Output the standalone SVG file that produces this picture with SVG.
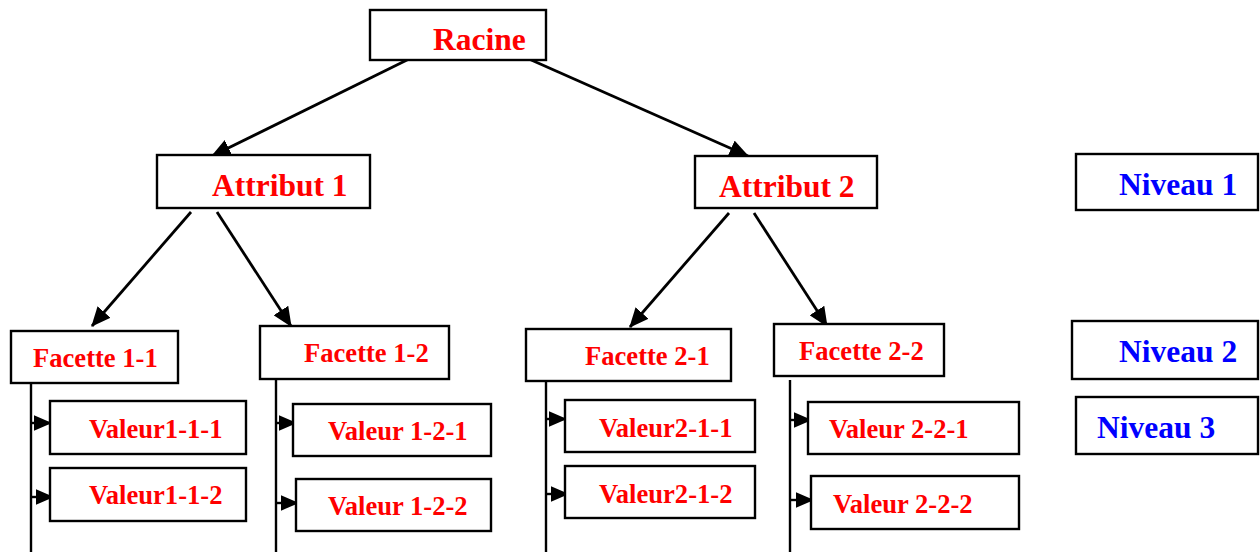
<svg xmlns="http://www.w3.org/2000/svg" width="1260" height="552" viewBox="0 0 1260 552">
  <style>
    .box { fill: #ffffff; stroke: #000000; stroke-width: 2.4; }
    .lbl { font-family: "Liberation Serif", "Times New Roman", serif; font-weight: bold; fill: #ff0000; }
    .big { font-size: 31.5px; }
    .mid { font-size: 26.6px; }
    .lvl { font-family: "Liberation Serif", "Times New Roman", serif; font-weight: bold; fill: #0000ff; font-size: 31.5px; }
    .edge { fill: none; stroke: #000000; stroke-width: 2.8; }
    .spine { fill: none; stroke: #000000; stroke-width: 2.4; }
  </style>
  <defs>
    <marker id="arrow" markerWidth="7" markerHeight="6.2" refX="6.6" refY="3.1" orient="auto" markerUnits="strokeWidth">
      <path d="M0,0 L7,3.1 L0,6.2 Z" fill="#000000"/>
    </marker>
    <marker id="arrowS" markerWidth="7.5" markerHeight="6.4" refX="7.1" refY="3.2" orient="auto" markerUnits="strokeWidth">
      <path d="M0,0 L7.5,3.2 L0,6.4 Z" fill="#000000"/>
    </marker>
  </defs>
  <rect width="1260" height="552" fill="#ffffff"/>

  <!-- connectors -->
  <g id="connectors">
    <line class="edge" x1="409" y1="59" x2="212" y2="156" marker-end="url(#arrow)"/>
    <line class="edge" x1="529" y1="59" x2="748" y2="156" marker-end="url(#arrow)"/>
    <line class="edge" x1="191" y1="212" x2="92" y2="326" marker-end="url(#arrow)"/>
    <line class="edge" x1="217" y1="212" x2="291" y2="326" marker-end="url(#arrow)"/>
    <line class="edge" x1="729" y1="213" x2="630" y2="327" marker-end="url(#arrow)"/>
    <line class="edge" x1="754" y1="213" x2="827" y2="326" marker-end="url(#arrow)"/>

    <!-- facet spines -->
    <line class="spine" x1="31" y1="383" x2="31" y2="552"/>
    <line class="spine" x1="276" y1="380" x2="276" y2="552"/>
    <line class="spine" x1="546" y1="381" x2="546" y2="552"/>
    <line class="spine" x1="790" y1="380" x2="790" y2="552"/>

    <!-- value branches -->
    <line class="spine" x1="31" y1="423" x2="51" y2="423" marker-end="url(#arrowS)"/>
    <line class="spine" x1="31" y1="497" x2="53" y2="497" marker-end="url(#arrowS)"/>
    <line class="spine" x1="276" y1="423" x2="296" y2="423" marker-end="url(#arrowS)"/>
    <line class="spine" x1="276" y1="503" x2="298" y2="503" marker-end="url(#arrowS)"/>
    <line class="spine" x1="546" y1="419" x2="566" y2="419" marker-end="url(#arrowS)"/>
    <line class="spine" x1="546" y1="494" x2="568" y2="494" marker-end="url(#arrowS)"/>
    <line class="spine" x1="790" y1="420" x2="811" y2="420" marker-end="url(#arrowS)"/>
    <line class="spine" x1="790" y1="500" x2="813" y2="500" marker-end="url(#arrowS)"/>
  </g>

  <!-- root -->
  <g id="racine">
    <rect class="box" x="370" y="10" width="176" height="50"/>
    <text class="lbl big" x="433" y="50">Racine</text>
  </g>

  <!-- attributes -->
  <g id="attribut-1">
    <rect class="box" x="157" y="155" width="213" height="53"/>
    <text class="lbl big" x="212" y="196">Attribut 1</text>
  </g>
  <g id="attribut-2">
    <rect class="box" x="695" y="156" width="182" height="52"/>
    <text class="lbl big" x="719" y="197">Attribut 2</text>
  </g>

  <!-- facets -->
  <g id="facette-1-1">
    <rect class="box" x="11" y="331" width="167" height="52"/>
    <text class="lbl mid" x="33" y="367">Facette 1-1</text>
  </g>
  <g id="facette-1-2">
    <rect class="box" x="260" y="326" width="189" height="53"/>
    <text class="lbl mid" x="304" y="362">Facette 1-2</text>
  </g>
  <g id="facette-2-1">
    <rect class="box" x="526" y="329" width="205" height="52"/>
    <text class="lbl mid" x="585" y="365">Facette 2-1</text>
  </g>
  <g id="facette-2-2">
    <rect class="box" x="774" y="324" width="170" height="52"/>
    <text class="lbl mid" x="799" y="360">Facette 2-2</text>
  </g>

  <!-- values -->
  <g id="valeur-1-1-1">
    <rect class="box" x="50" y="401" width="196" height="53"/>
    <text class="lbl mid" x="89" y="438">Valeur1-1-1</text>
  </g>
  <g id="valeur-1-1-2">
    <rect class="box" x="50" y="468" width="196" height="53"/>
    <text class="lbl mid" x="89" y="504">Valeur1-1-2</text>
  </g>
  <g id="valeur-1-2-1">
    <rect class="box" x="293" y="404" width="198" height="52"/>
    <text class="lbl mid" x="328" y="440">Valeur 1-2-1</text>
  </g>
  <g id="valeur-1-2-2">
    <rect class="box" x="296" y="479" width="195" height="52"/>
    <text class="lbl mid" x="328" y="515">Valeur 1-2-2</text>
  </g>
  <g id="valeur-2-1-1">
    <rect class="box" x="565" y="400" width="190" height="52"/>
    <text class="lbl mid" x="599" y="437">Valeur2-1-1</text>
  </g>
  <g id="valeur-2-1-2">
    <rect class="box" x="565" y="466" width="190" height="52"/>
    <text class="lbl mid" x="599" y="503">Valeur2-1-2</text>
  </g>
  <g id="valeur-2-2-1">
    <rect class="box" x="808" y="402" width="211" height="52"/>
    <text class="lbl mid" x="829" y="438">Valeur 2-2-1</text>
  </g>
  <g id="valeur-2-2-2">
    <rect class="box" x="811" y="476" width="208" height="53"/>
    <text class="lbl mid" x="833" y="513">Valeur 2-2-2</text>
  </g>

  <!-- level legend -->
  <g id="niveau-1">
    <rect class="box" x="1076" y="154" width="182" height="56"/>
    <text class="lvl" x="1119" y="195">Niveau 1</text>
  </g>
  <g id="niveau-2">
    <rect class="box" x="1072" y="321" width="186" height="58"/>
    <text class="lvl" x="1119" y="362">Niveau 2</text>
  </g>
  <g id="niveau-3">
    <rect class="box" x="1076" y="397" width="182" height="57"/>
    <text class="lvl" x="1097" y="438">Niveau 3</text>
  </g>
</svg>
